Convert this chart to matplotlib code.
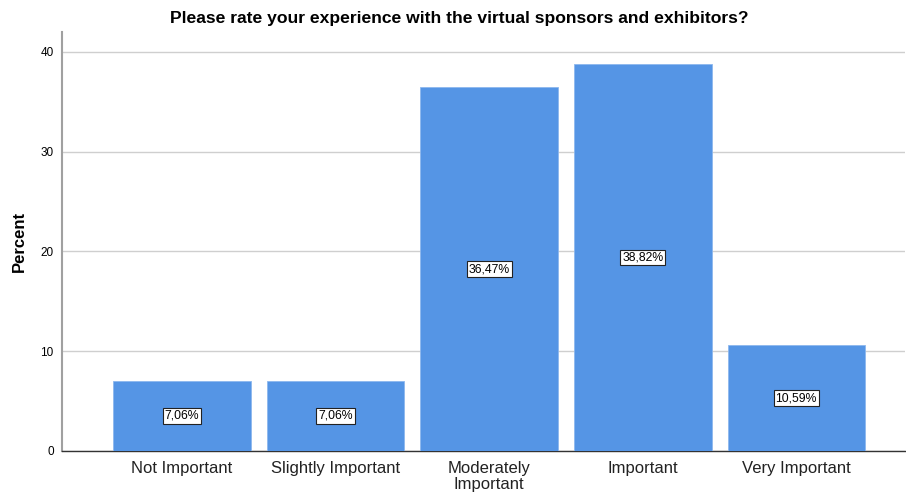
import matplotlib
matplotlib.use('Agg')
import numpy as np
from matplotlib import pyplot as plt

plt.rcParams['font.family'] = ['Liberation Sans', 'DejaVu Sans']

# Survey responses (percent)
categories = ['Not Important', 'Slightly Important', 'Moderately\nImportant', 'Important', 'Very Important']
percent = [7.06, 7.06, 36.47, 38.82, 10.59]
y_ticks = [0, 10, 20, 30, 40]

bar_color = '#5595e5'
grid_color = '#cfcfcf'

fig = plt.figure(figsize=(9.06, 4.95), dpi=100)
ax = fig.add_axes([0.0684, 0.0889, 0.931, 0.8465])

x = np.arange(len(categories))
ax.bar(x, percent, width=0.896, color=bar_color, edgecolor='#8db8ee', linewidth=0.6, zorder=3)

# value labels in the middle of each bar
for xi, val in zip(x, percent):
    ax.text(xi, val / 2, f'{val:.2f}%'.replace('.', ','), ha='center', va='center', fontsize=8.8,
            bbox=dict(boxstyle='square,pad=0.15', facecolor='white', edgecolor='#222222', linewidth=0.8),
            zorder=4)

ax.set_xlim(-0.78, 4.71)
ax.set_ylim(0, 42)
ax.set_yticks(y_ticks)
ax.set_xticks(x)
ax.set_xticklabels(categories, fontsize=12, color='#222222', linespacing=1.1)
ax.tick_params(axis='y', length=0, pad=6, labelsize=8.5)
ax.tick_params(axis='x', length=0, pad=7)
ax.grid(axis='y', color=grid_color, linewidth=1, zorder=0)

for side in ['top', 'right']:
    ax.spines[side].set_visible(False)
ax.spines['left'].set_color('#a0a0a0')
ax.spines['left'].set_linewidth(1.5)
ax.spines['bottom'].set_color('#333333')
ax.spines['bottom'].set_linewidth(1)

ax.set_ylabel('Percent', fontsize=12, fontweight='bold', labelpad=10)
fig.text(0.507, 0.962, 'Please rate your experience with the virtual sponsors and exhibitors?',
         ha='center', va='center', fontsize=12.6, fontweight='bold')

fig.savefig('out.png', dpi=100)
